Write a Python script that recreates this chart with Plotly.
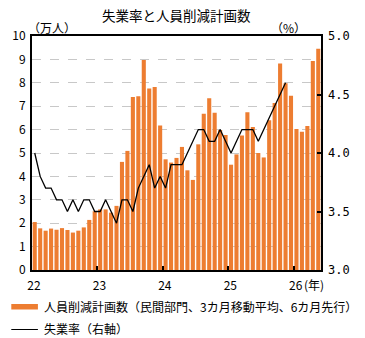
import plotly.graph_objects as go

# ---- data ----
year_labels = ["22", "23", "24", "25", "26"]
# layoff plans (10k persons), monthly Jan-2022 .. May-2026 (6-month lead)
layoffs = [2.05, 1.78, 1.68, 1.77, 1.72, 1.79, 1.71, 1.60, 1.68, 1.82, 2.14, 2.51,
           2.59, 2.59, 2.45, 2.74, 4.62, 5.09, 7.39, 7.42, 8.97, 7.76, 7.82, 6.18,
           4.73, 4.59, 4.79, 5.26, 4.26, 3.85, 5.37, 6.68, 7.34, 6.72, 5.98, 5.77,
           4.50, 4.94, 5.75, 6.74, 6.11, 5.00, 4.81, 6.40, 7.14, 8.83, 7.98, 7.45,
           6.03, 5.91, 6.15, 8.93, 9.46]
# unemployment rate (%), monthly Jan-2022 .. Nov-2025
unemp = [4.0, 3.8, 3.7, 3.7, 3.6, 3.6, 3.5, 3.6, 3.5, 3.6, 3.6, 3.5,
         3.5, 3.6, 3.5, 3.4, 3.6, 3.6, 3.5, 3.7, 3.8, 3.9, 3.7, 3.8,
         3.7, 3.9, 3.9, 3.9, 4.0, 4.1, 4.2, 4.2, 4.1, 4.1, 4.2, 4.1,
         4.0, 4.1, 4.2, 4.2, 4.2, 4.1, 4.2, 4.3, 4.4, 4.5, 4.6]

bar_name = "人員削減計画数（民間部門、3カ月移動平均、6カ月先行）"
line_name = "失業率（右軸）"

x_bar = list(range(len(layoffs)))
x_line = list(range(len(unemp)))
year_ticks = [i * 12 - 0.5 for i in range(len(year_labels))]

JP = "Noto Sans CJK JP"
ORANGE = "#ED7D31"

fig = go.Figure()
fig.add_trace(go.Bar(x=x_bar, y=layoffs, name=bar_name, marker_color=ORANGE,
                     marker_line_width=0, yaxis="y", showlegend=False))
fig.add_trace(go.Scatter(x=x_line, y=unemp, name=line_name, mode="lines",
                         line=dict(color="black", width=1.3), yaxis="y2",
                         showlegend=False))

fig.update_layout(
    width=365, height=338,
    margin=dict(l=28, r=44, t=36, b=68),
    paper_bgcolor="white", plot_bgcolor="white",
    bargap=0.25,
    font=dict(family=JP, size=12, color="black"),
    xaxis=dict(range=[-0.5, len(layoffs) - 0.5], tickvals=year_ticks,
               ticktext=year_labels, ticks="inside", ticklen=4, tickwidth=1.5,
               tickcolor="black", showgrid=False, showline=True, linewidth=2,
               linecolor="black", mirror=True, zeroline=False,
               tickfont=dict(family=JP, size=12), ticklabelshift=2,
               ticklabelstandoff=4),
    yaxis=dict(range=[0, 10], dtick=1, showgrid=True, gridcolor="#C8C8C8",
               griddash="dash", gridwidth=1, showline=True, linewidth=2,
               linecolor="black", mirror=True, zeroline=False, ticks="",
               tickfont=dict(family=JP, size=12), ticklabelstandoff=2),
    yaxis2=dict(range=[3, 5], dtick=0.5, tickformat=".1f", overlaying="y",
                side="right", showgrid=False, ticks="inside", ticklen=4,
                tickcolor="black", tickwidth=1.5, showline=False, zeroline=False,
                tickfont=dict(family="DejaVu Sans Mono", size=12),
                ticklabelstandoff=6),
    annotations=[
        dict(text="失業率と人員削減計画数", x=0.5, y=15, xref="paper", yref="paper",
             showarrow=False, font=dict(family=JP, size=13.5)),
        dict(text="（万人）", x=22, y=28, showarrow=False, xanchor="left"),
        dict(text="（%）", x=268, y=28, showarrow=False, xanchor="left"),
        dict(text="(年)", x=302, y=284, showarrow=False, xanchor="left"),
        dict(text=bar_name, x=38, y=306.5, showarrow=False, xanchor="left",
             font=dict(family=JP, size=12)),
        dict(text=line_name, x=38, y=328.5, showarrow=False, xanchor="left",
             font=dict(family=JP, size=12)),
    ],
)

# convert pixel-positioned annotations to paper coordinates
W, H = 365, 338
l, r, t, b = 28, 44, 36, 68
pw, ph = W - l - r, H - t - b
anns = []
for a in fig.layout.annotations:
    a = a.to_plotly_json()
    a["x"] = (a["x"] - l) / pw if a["x"] > 1 else a["x"]
    a["y"] = (H - b - a["y"]) / ph
    a["xref"] = "paper"; a["yref"] = "paper"
    a["yanchor"] = "middle"
    anns.append(a)
fig.layout.annotations = anns

# legend swatches
fig.add_shape(type="rect", xref="paper", yref="paper",
              x0=(7 - l) / pw, x1=(34 - l) / pw,
              y0=(H - b - 309.5) / ph, y1=(H - b - 304) / ph,
              fillcolor=ORANGE, line_width=0)
fig.add_shape(type="line", xref="paper", yref="paper",
              x0=(7 - l) / pw, x1=(34 - l) / pw,
              y0=(H - b - 329.5) / ph, y1=(H - b - 329.5) / ph,
              line=dict(color="black", width=1))

fig.write_html("out.html")
